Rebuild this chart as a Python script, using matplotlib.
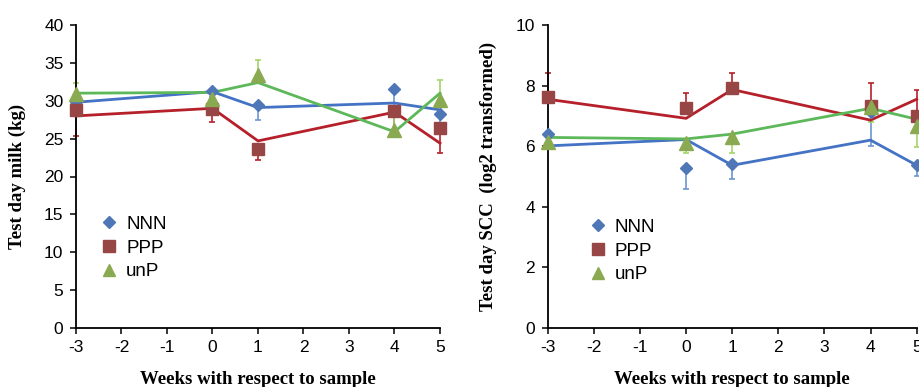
import numpy as np
import matplotlib
matplotlib.use("Agg")
import matplotlib.pyplot as plt
from matplotlib.lines import Line2D

plt.rcParams["axes.unicode_minus"] = False

# ── data ─────────────────────────────────────────────────────────────────────
weeks = [-3, 0, 1, 4, 5]
groups = ["NNN", "PPP", "unP"]

# test day milk (kg): observed means, fitted line, one-sided error bar
milk_obs = {"NNN": [29.8, 31.3, 29.5, 31.5, 28.3],
            "PPP": [28.8, 28.9, 23.6, 28.6, 26.4],
            "unP": [30.9, 30.2, 33.4, 26.1, 30.1]}
milk_fit = {"NNN": [29.8, 31.2, 29.1, 29.7, 28.8],
            "PPP": [28.0, 29.0, 24.7, 28.5, 24.4],
            "unP": [31.0, 31.1, 32.4, 25.9, 31.0]}
milk_err = {"NNN": [0.4, 0.8, 2.0, 2.3, 1.2],
            "PPP": [3.5, 1.7, 1.4, 3.1, 3.3],
            "unP": [1.5, 1.2, 2.0, 2.0, 2.6]}
milk_dir = {"NNN": -1, "PPP": -1, "unP": 1}

# test day SCC (log2 transformed)
scc_obs = {"NNN": [6.40, 5.27, 5.40, 7.14, 5.38],
           "PPP": [7.63, 7.25, 7.91, 7.33, 7.00],
           "unP": [6.15, 6.09, 6.31, 7.30, 6.67]}
scc_fit = {"NNN": [6.01, 6.22, 5.37, 6.20, 5.37],
           "PPP": [7.55, 6.92, 7.87, 6.86, 7.55],
           "unP": [6.29, 6.24, 6.40, 7.25, 6.89]}
scc_err = {"NNN": [0.3, 0.69, 0.49, 1.13, 0.36],
           "PPP": [0.78, 0.50, 0.50, 0.77, 0.85],
           "unP": [0.25, 0.30, 0.52, 0.49, 0.71]}
scc_dir = {"NNN": -1, "PPP": 1, "unP": -1}

# ── styles ───────────────────────────────────────────────────────────────────
line_col = {"NNN": "#4472C4", "PPP": "#B5202A", "unP": "#5DB85A"}
mark_col = {"NNN": "#4F77B8", "PPP": "#984545", "unP": "#8AAA52"}
err_col = {"NNN": "#6C95D2", "PPP": "#B5202A", "unP": "#A4D46C"}
marker = {"NNN": "D", "PPP": "s", "unP": "^"}
msize = {"NNN": 6.5, "PPP": 9, "unP": 9.5}

TICK_FONT = "Liberation Sans"
LABEL_FONT = "Liberation Serif"


def draw_panel(ax, obs, fit, err, direction, ylim, yticks, ylabel,
               ylabel_x, legend_xy):
    x = np.array(weeks, dtype=float)
    for g in groups:
        y = np.array(obs[g])
        e = np.array(err[g])
        if direction[g] > 0:
            yerr = [np.zeros_like(e), e]
        else:
            yerr = [e, np.zeros_like(e)]
        ax.errorbar(x, y, yerr=yerr, fmt="none", ecolor=err_col[g],
                    elinewidth=1.2, capsize=2.5, capthick=1.2,
                    zorder=2, clip_on=False)
        ax.plot(x, fit[g], color=line_col[g], lw=2.0, zorder=3,
                clip_on=False, solid_joinstyle="miter")
        ax.plot(x, y, linestyle="none", marker=marker[g], ms=msize[g],
                color=mark_col[g], mec=mark_col[g], zorder=4, clip_on=False)

    ax.set_xlim(-3, 5)
    ax.set_ylim(*ylim)
    ax.set_xticks(range(-3, 6))
    ax.set_yticks(yticks)
    for s in ("top", "right"):
        ax.spines[s].set_visible(False)
    for s in ("left", "bottom"):
        ax.spines[s].set_linewidth(1.3)
    ax.tick_params(direction="out", length=4, width=1.1, labelsize=12.5,
                   pad=5)
    for lab in ax.get_xticklabels() + ax.get_yticklabels():
        lab.set_fontfamily(TICK_FONT)

    ax.set_xlabel("Weeks with respect to sample", fontsize=13.5,
                  fontweight="bold", family=LABEL_FONT)
    ax.xaxis.set_label_coords(0.5, -0.142)
    ax.set_ylabel(ylabel, fontsize=13.5, fontweight="bold", family=LABEL_FONT)
    ax.yaxis.set_label_coords(ylabel_x, 0.5)

    handles = [Line2D([], [], linestyle="none", marker=marker[g],
                      ms=msize[g] * 0.95, color=mark_col[g]) for g in groups]
    ax.legend(handles, groups, loc="upper left", bbox_to_anchor=legend_xy,
              frameon=False, handlelength=0.8, handletextpad=0.5,
              labelspacing=0.35, borderaxespad=0,
              prop={"family": TICK_FONT, "size": 13.5})


fig = plt.figure(figsize=(9.2, 3.87), dpi=100)
ax1 = fig.add_axes([76 / 920, 59 / 387, 364 / 920, 303 / 387])
ax2 = fig.add_axes([547.7 / 920, 59 / 387, 369 / 920, 303 / 387])

draw_panel(ax1, milk_obs, milk_fit, milk_err, milk_dir, (0, 40),
           range(0, 41, 5), "Test day milk (kg)", -0.137, (0.05, 0.395))
draw_panel(ax2, scc_obs, scc_fit, scc_err, scc_dir, (0, 10),
           range(0, 11, 2), "Test day SCC  (log2 transformed)", -0.137,
           (0.095, 0.385))

fig.savefig("out.png", dpi=100)
